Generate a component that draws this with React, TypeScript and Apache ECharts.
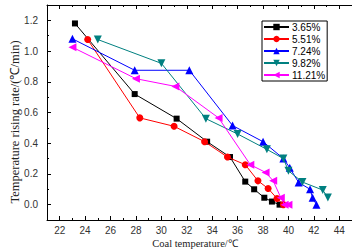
import React, { useEffect, useRef } from "react";
import * as echarts from "echarts";

const seriesNames = ["3.65%", "5.51%", "7.24%", "9.82%", "11.21%"];
const seriesColors = ["#000000", "#ff0000", "#0000ff", "#008080", "#ff00ff"];

const s365 = [[23.2, 1.18], [27.9, 0.72], [31.2, 0.56], [33.6, 0.41], [35.4, 0.31], [36.6, 0.15], [37.3, 0.10], [38.1, 0.045], [38.7, 0.02], [39.3, 0.0]];
const s551 = [[24.2, 1.075], [28.3, 0.565], [31.0, 0.51], [33.4, 0.41], [35.2, 0.31], [36.6, 0.26], [37.6, 0.155], [38.4, 0.105], [39.1, 0.04], [39.6, 0.0]];
const s724 = [[23.0, 1.08], [27.9, 0.875], [32.2, 0.875], [35.6, 0.515], [38.0, 0.41], [39.6, 0.30], [40.1, 0.24], [40.8, 0.145], [41.7, 0.10], [41.9, 0.045], [42.2, 0.0]];
const s982 = [[25.0, 1.075], [30.0, 0.92], [33.5, 0.56], [36.0, 0.46], [38.3, 0.36], [39.6, 0.30], [40.0, 0.22], [41.1, 0.147], [42.7, 0.095], [43.1, 0.046]];
const s1121 = [[23.0, 1.025], [28.0, 0.82], [31.1, 0.77], [34.5, 0.565], [37.0, 0.26], [38.2, 0.21], [38.8, 0.155], [39.4, 0.045], [39.7, 0.0], [40.0, 0.0]];

const xMajorTicks = [22, 24, 26, 28, 30, 32, 34, 36, 38, 40, 42, 44];
const xMinorTicks = [21, 23, 25, 27, 29, 31, 33, 35, 37, 39, 41, 43, 45];
const yMajorTicks = [0, 0.2, 0.4, 0.6, 0.8, 1.0, 1.2];
const yMinorTicks = [-0.1, 0.1, 0.3, 0.5, 0.7, 0.9, 1.1, 1.3];

const xTitle = "Coal temperature/℃";
const yTitle = "Temperature rising rate/(℃/min)";

export default function App() {
  const ref = useRef<HTMLDivElement>(null);
  useEffect(() => {
    if (!ref.current) return;
    const chart = echarts.init(ref.current, null, { renderer: "svg" });
    const data = [s365, s551, s724, s982, s1121];
    const symbols = ["rect", "circle", "triangle", "triangle", "triangle"];
    const rotates = [0, 0, 0, 180, 90];
    const sizes = [6, 7, 8, 8, 8];
    const grid = { left: 47, top: 5, width: 310, height: 215 };
    const tickLabel = { color: "#333", fontFamily: "Liberation Sans", fontSize: 10 };
    const xBase = { type: "value", min: 21, max: 45, gridIndex: 0, splitLine: { show: false } };
    const yBase = { type: "value", min: -0.1, max: 1.3, gridIndex: 0, splitLine: { show: false } };
    chart.setOption({
      animation: false,
      grid,
      xAxis: [
        {
          ...xBase,
          position: "bottom",
          axisLine: { show: true, onZero: false, lineStyle: { color: "#000", width: 1 } },
          axisTick: { show: true, inside: true, length: 4, customValues: xMajorTicks, lineStyle: { color: "#000" } },
          axisLabel: { ...tickLabel, margin: 5, customValues: xMajorTicks },
        },
        {
          ...xBase,
          position: "bottom",
          axisLine: { show: false, onZero: false },
          axisTick: { show: true, inside: true, length: 2, customValues: xMinorTicks, lineStyle: { color: "#000" } },
          axisLabel: { show: false },
        },
        {
          ...xBase,
          position: "top",
          axisLine: { show: true, onZero: false, lineStyle: { color: "#000", width: 1 } },
          axisTick: { show: true, inside: true, length: 4, customValues: xMajorTicks, lineStyle: { color: "#000" } },
          axisLabel: { show: false },
        },
        {
          ...xBase,
          position: "top",
          axisLine: { show: false, onZero: false },
          axisTick: { show: true, inside: true, length: 2, customValues: xMinorTicks, lineStyle: { color: "#000" } },
          axisLabel: { show: false },
        },
      ],
      yAxis: [
        {
          ...yBase,
          position: "left",
          axisLine: { show: true, onZero: false, lineStyle: { color: "#000", width: 1 } },
          axisTick: { show: true, inside: true, length: 4, customValues: yMajorTicks, lineStyle: { color: "#000" } },
          axisLabel: { ...tickLabel, margin: 9, customValues: yMajorTicks, formatter: (v: number) => v.toFixed(1) },
        },
        {
          ...yBase,
          position: "left",
          axisLine: { show: false, onZero: false },
          axisTick: { show: true, inside: true, length: 2, customValues: yMinorTicks, lineStyle: { color: "#000" } },
          axisLabel: { show: false },
        },
      ],
      legend: {
        orient: "vertical",
        left: 262,
        top: 21,
        data: seriesNames,
        itemWidth: 25,
        itemHeight: 8,
        itemGap: 2,
        padding: [1, 2, 1, 1],
        borderColor: "#000",
        borderWidth: 1,
        backgroundColor: "#fff",
        textStyle: { fontFamily: "Liberation Sans", fontSize: 10, color: "#000", padding: [0, 0, 0, -2], lineHeight: 10 },
      },
      graphic: [
        {
          type: "text",
          x: 195,
          y: 243,
          style: { text: xTitle, fontFamily: "Liberation Serif", fontSize: 10.5, fill: "#222", align: "center", verticalAlign: "middle" },
        },
        {
          type: "text",
          x: 15,
          y: 122,
          rotation: Math.PI / 2,
          style: { text: yTitle, fontFamily: "Liberation Serif", fontSize: 12.5, fill: "#222", align: "center", verticalAlign: "middle" },
        },
      ],
      series: data.map((d, i) => ({
        name: seriesNames[i],
        type: "line",
        data: d,
        symbol: symbols[i],
        symbolSize: sizes[i],
        symbolRotate: rotates[i],
        showAllSymbol: true,
        color: seriesColors[i],
        lineStyle: { width: 1, color: seriesColors[i] },
        itemStyle: { color: seriesColors[i] },
        z: 2 + i,
      })),
    });
    return () => chart.dispose();
  }, []);
  return <div ref={ref} style={{ position: "absolute", left: 0, top: 0, width: 352, height: 252, overflow: "hidden" }} />;
}
